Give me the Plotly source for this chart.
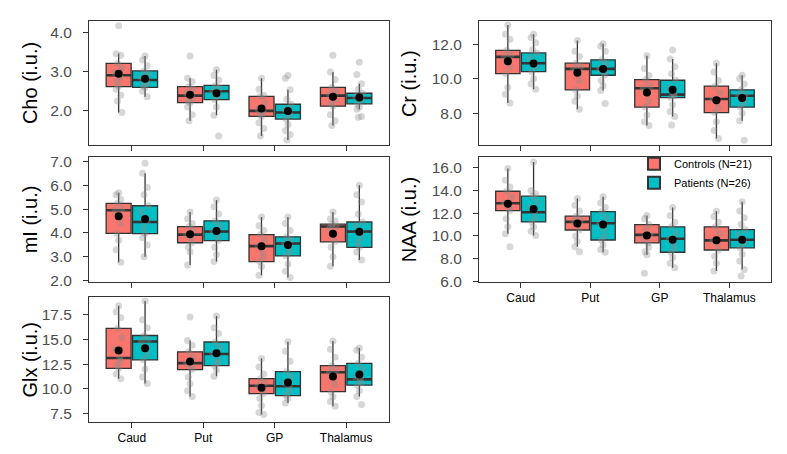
import plotly.graph_objects as go

# ---------------- data ----------------
regions = ["Caud", "Put", "GP", "Thalamus"]
group_names = ["Controls (N=21)", "Patients (N=26)"]

# box statistics per region (Caud, Put, GP, Thalamus)
cho_ctrl = dict(q1=[2.62, 2.21, 1.86, 2.12], med=[2.91, 2.39, 2.00, 2.39], q3=[3.21, 2.62, 2.37, 2.60],
                lo=[1.96, 1.75, 1.36, 1.63], hi=[3.46, 2.83, 2.83, 2.99], mean=[2.95, 2.41, 2.06, 2.36])
cho_pat = dict(q1=[2.60, 2.29, 1.79, 2.18], med=[2.79, 2.50, 1.96, 2.33], q3=[3.02, 2.65, 2.17, 2.45],
               lo=[2.36, 1.89, 1.26, 2.04], hi=[3.40, 3.05, 2.54, 2.69], mean=[2.82, 2.45, 2.00, 2.34])
cr_ctrl = dict(q1=[10.30, 9.36, 8.36, 8.04], med=[11.28, 10.58, 9.45, 8.83], q3=[11.66, 10.91, 9.96, 9.58],
               lo=[8.60, 8.23, 7.28, 6.53], hi=[13.13, 12.23, 11.34, 10.91], mean=[11.02, 10.36, 9.21, 8.75])
cr_pat = dict(q1=[10.42, 10.21, 8.91, 8.36], med=[10.91, 10.58, 9.08, 9.02], q3=[11.51, 11.11, 9.92, 9.36],
              lo=[9.40, 9.32, 7.81, 7.57], hi=[12.60, 12.04, 11.15, 10.21], mean=[10.90, 10.58, 9.36, 8.89])
mi_ctrl = dict(q1=[3.98, 3.59, 2.80, 3.63], med=[4.95, 3.93, 3.45, 4.27], q3=[5.24, 4.27, 3.93, 4.37],
               lo=[2.77, 2.66, 2.23, 2.61], hi=[5.69, 4.88, 4.67, 4.88], mean=[4.70, 3.95, 3.44, 3.97])
mi_pat = dict(q1=[3.97, 3.68, 3.04, 3.40], med=[4.46, 4.06, 3.56, 4.06], q3=[5.14, 4.51, 3.84, 4.46],
              lo=[3.00, 2.80, 2.13, 2.87], hi=[6.50, 5.38, 4.67, 6.00], mean=[4.59, 4.08, 3.50, 4.05])
naa_ctrl = dict(q1=[12.22, 10.52, 9.38, 8.76], med=[12.88, 11.23, 10.09, 9.61], q3=[13.93, 11.74, 11.00, 10.80],
                lo=[10.18, 9.04, 8.33, 6.91], hi=[15.94, 13.30, 11.80, 12.16], mean=[12.82, 11.09, 10.03, 9.61])
naa_pat = dict(q1=[11.23, 9.64, 8.56, 8.95], med=[12.08, 11.11, 9.75, 9.66], q3=[13.50, 12.14, 10.80, 10.55],
               lo=[10.03, 8.56, 7.19, 7.05], hi=[16.50, 13.44, 12.50, 13.00], mean=[12.36, 11.00, 9.66, 9.66])
glx_ctrl = dict(q1=[12.07, 11.94, 9.50, 9.70], med=[13.12, 12.60, 10.30, 11.68], q3=[16.12, 13.75, 11.02, 12.34],
                lo=[11.02, 9.21, 7.40, 8.22], hi=[18.42, 14.90, 13.06, 14.84], mean=[13.88, 12.76, 10.10, 11.25])
glx_pat = dict(q1=[12.93, 12.34, 9.31, 10.36], med=[14.80, 13.52, 10.26, 10.95], q3=[15.40, 14.74, 11.74, 12.57],
               lo=[10.53, 11.28, 8.55, 9.21], hi=[18.91, 17.37, 14.77, 14.14], mean=[14.11, 13.59, 10.63, 11.45])

cho_ctrl_pts = [[4.17, 3.46, 3.42, 3.21, 3.10, 2.98, 2.91, 2.85, 2.75, 2.62, 2.55, 2.40, 2.25, 1.96],
                [3.40, 2.83, 2.75, 2.62, 2.55, 2.45, 2.39, 2.33, 2.25, 2.21, 2.10, 1.90, 1.75],
                [2.83, 2.55, 2.40, 2.37, 2.20, 2.05, 2.00, 1.95, 1.90, 1.86, 1.70, 1.55, 1.36],
                [3.42, 2.99, 2.80, 2.60, 2.50, 2.42, 2.39, 2.30, 2.20, 2.12, 1.90, 1.75, 1.63]]
cho_pat_pts = [[3.40, 3.30, 3.15, 3.02, 2.95, 2.85, 2.79, 2.72, 2.65, 2.60, 2.50, 2.36],
               [3.05, 2.90, 2.78, 2.65, 2.58, 2.50, 2.45, 2.38, 2.29, 2.10, 1.89, 1.36],
               [2.90, 2.83, 2.54, 2.30, 2.17, 2.05, 1.96, 1.90, 1.79, 1.65, 1.50, 1.40, 1.26],
               [3.24, 2.93, 2.69, 2.55, 2.45, 2.38, 2.33, 2.28, 2.18, 2.10, 2.04, 1.86, 1.84]]
cr_ctrl_pts = [[13.13, 12.60, 12.30, 11.66, 11.40, 11.28, 11.00, 10.70, 10.30, 9.50, 9.10, 8.60],
               [12.23, 11.60, 11.30, 10.91, 10.70, 10.58, 10.30, 9.90, 9.36, 9.00, 8.70, 8.23],
               [11.34, 10.60, 10.20, 9.96, 9.60, 9.45, 9.10, 8.70, 8.36, 7.90, 7.50, 7.28],
               [10.91, 10.40, 9.90, 9.58, 9.20, 8.83, 8.60, 8.30, 8.04, 7.50, 7.00, 6.53]]
cr_pat_pts = [[12.60, 12.40, 12.10, 11.70, 11.51, 11.20, 10.91, 10.70, 10.42, 10.00, 9.70, 9.40],
              [12.04, 11.90, 11.60, 11.11, 10.90, 10.58, 10.40, 10.21, 9.90, 9.60, 9.32, 8.57],
              [11.68, 11.15, 10.70, 10.30, 9.92, 9.50, 9.08, 9.00, 8.91, 8.50, 8.10, 7.81, 7.32],
              [10.21, 10.00, 9.70, 9.36, 9.10, 9.02, 8.80, 8.60, 8.36, 8.00, 7.57, 6.43]]
mi_ctrl_pts = [[5.69, 5.60, 5.40, 5.24, 5.00, 4.95, 4.70, 4.40, 3.98, 3.70, 3.30, 2.77],
               [4.88, 4.60, 4.40, 4.27, 4.10, 3.93, 3.80, 3.59, 3.40, 3.20, 2.66],
               [4.67, 4.30, 4.10, 3.93, 3.70, 3.45, 3.20, 3.00, 2.80, 2.60, 2.23],
               [4.88, 4.60, 4.50, 4.37, 4.27, 4.20, 3.90, 3.63, 3.40, 3.00, 2.61]]
mi_pat_pts = [[6.92, 6.50, 5.90, 5.60, 5.14, 4.90, 4.60, 4.46, 4.20, 3.97, 3.80, 3.50, 3.00],
              [5.38, 5.10, 4.80, 4.51, 4.30, 4.06, 3.90, 3.68, 3.40, 3.10, 2.80],
              [4.67, 4.40, 4.10, 3.84, 3.70, 3.56, 3.40, 3.20, 3.04, 2.70, 2.40, 2.13],
              [6.00, 5.60, 5.30, 4.80, 4.46, 4.30, 4.06, 3.80, 3.60, 3.40, 3.20, 2.87]]
naa_ctrl_pts = [[15.94, 14.90, 14.30, 13.93, 13.40, 12.88, 12.50, 12.22, 11.50, 10.80, 10.18, 9.04],
                [13.30, 12.70, 12.20, 11.74, 11.40, 11.23, 11.00, 10.52, 10.00, 9.50, 9.04, 8.61],
                [11.80, 11.50, 11.00, 10.60, 10.09, 9.80, 9.38, 9.00, 8.60, 8.33, 6.71],
                [12.16, 11.70, 11.20, 10.80, 10.20, 9.61, 9.30, 8.76, 8.20, 7.60, 6.91]]
naa_pat_pts = [[16.50, 14.00, 13.70, 13.50, 13.00, 12.50, 12.08, 11.60, 11.23, 10.80, 10.40, 10.03],
               [13.44, 12.90, 12.50, 12.14, 11.60, 11.11, 10.60, 10.00, 9.64, 9.20, 8.80, 8.56],
               [12.50, 11.80, 11.20, 10.80, 10.20, 9.75, 9.30, 8.90, 8.56, 8.10, 7.60, 7.19],
               [13.00, 12.20, 11.60, 11.00, 10.55, 10.10, 9.66, 9.30, 8.95, 8.40, 7.80, 7.05, 6.48]]
glx_ctrl_pts = [[18.42, 17.80, 17.20, 16.12, 15.20, 14.00, 13.12, 12.80, 12.40, 12.07, 11.50, 11.02],
                [17.27, 14.90, 14.40, 13.75, 13.20, 12.60, 12.30, 11.94, 11.20, 10.50, 9.80, 9.21],
                [13.06, 12.20, 11.50, 11.02, 10.60, 10.30, 10.00, 9.50, 9.00, 8.30, 7.60, 7.40],
                [14.84, 14.00, 13.20, 12.34, 11.90, 11.68, 11.00, 10.40, 9.70, 9.20, 8.70, 8.22]]
glx_pat_pts = [[18.91, 17.00, 16.20, 15.40, 15.00, 14.80, 14.20, 13.50, 12.93, 12.00, 11.20, 10.53],
               [17.37, 16.20, 15.60, 14.74, 14.20, 13.52, 13.00, 12.60, 12.34, 11.90, 11.28],
               [14.77, 13.80, 12.80, 11.74, 11.20, 10.60, 10.26, 9.80, 9.31, 9.00, 8.55],
               [14.14, 13.90, 13.20, 12.57, 12.00, 11.20, 10.95, 10.60, 10.36, 9.80, 9.21, 8.39]]

y_titles = ["Cho (i.u.)", "Cr (i.u.)", "mI (i.u.)", "NAA (i.u.)", "Glx (i.u.)"]
y_ranges = [[1.12, 4.30], [6.13, 13.38], [1.96, 7.18], [5.97, 16.94], [6.64, 19.28]]
y_ticks = [[2.0, 3.0, 4.0], [8.0, 10.0, 12.0], [2.0, 3.0, 4.0, 5.0, 6.0, 7.0],
           [6.0, 8.0, 10.0, 12.0, 14.0, 16.0], [7.5, 10.0, 12.5, 15.0, 17.5]]

panels = [
    (cho_ctrl, cho_pat, cho_ctrl_pts, cho_pat_pts),
    (cr_ctrl, cr_pat, cr_ctrl_pts, cr_pat_pts),
    (mi_ctrl, mi_pat, mi_ctrl_pts, mi_pat_pts),
    (naa_ctrl, naa_pat, naa_ctrl_pts, naa_pat_pts),
    (glx_ctrl, glx_pat, glx_ctrl_pts, glx_pat_pts),
]

# ---------------- style ----------------
W, H = 787, 454
FONT = "Liberation Sans, Arial, Helvetica, sans-serif"
fills = ["#F8766D", "#00BFC4"]
edge = "#333333"
dodge = 0.185
bw = 0.35
jit = [0.0, -0.035, 0.03, -0.015, 0.045, -0.05, 0.015, 0.025, -0.025]

# panel pixel boxes (left, top, right, bottom)
pix = [(81, 9, 381, 137), (471, 9, 763, 137), (81, 149, 381, 277),
       (471, 149, 763, 277), (81, 293, 381, 421)]
title_x = [22, 401, 22, 401, 22]
show_xlabels = [False, False, False, True, True]

fig = go.Figure()
for p, (sc, sp, pc, pp) in enumerate(panels):
    sfx = "" if p == 0 else str(p + 1)
    xa, ya = "x" + sfx, "y" + sfx
    for g, (st, pts) in enumerate([(sc, pc), (sp, pp)]):
        off = -dodge if g == 0 else dodge
        xs = [i + 1 + off for i in range(len(regions))]
        fig.add_trace(go.Box(
            x=xs, q1=st["q1"], median=st["med"], q3=st["q3"],
            lowerfence=st["lo"], upperfence=st["hi"],
            width=bw, whiskerwidth=0, boxpoints=False,
            fillcolor=fills[g], line=dict(color=edge, width=1.3),
            name=group_names[g], legendgroup=group_names[g],
            showlegend=(p == 3), xaxis=xa, yaxis=ya, hoverinfo="skip"))
        # thicker median bars
        mx, my = [], []
        for i, m in enumerate(st["med"]):
            mx += [xs[i] - bw / 2, xs[i] + bw / 2, None]
            my += [m, m, None]
        fig.add_trace(go.Scatter(x=mx, y=my, mode="lines", line=dict(color=edge, width=2.6),
                                 showlegend=False, xaxis=xa, yaxis=ya, hoverinfo="skip"))
        # jittered observations
        px, py = [], []
        for i, vals in enumerate(pts):
            for k, v in enumerate(vals):
                px.append(xs[i] + jit[k % len(jit)])
                py.append(v)
        fig.add_trace(go.Scatter(x=px, y=py, mode="markers",
                                 marker=dict(color="rgba(140,140,140,0.35)", size=7, line=dict(width=0)),
                                 showlegend=False, xaxis=xa, yaxis=ya, hoverinfo="skip"))
        # means
        fig.add_trace(go.Scatter(x=xs, y=st["mean"], mode="markers",
                                 marker=dict(color="black", size=8),
                                 showlegend=False, xaxis=xa, yaxis=ya, hoverinfo="skip"))

annotations = []
layout = dict(width=W, height=H, margin=dict(l=0, r=0, t=0, b=0),
              paper_bgcolor="white", plot_bgcolor="white",
              font=dict(family=FONT, color="#4d4d4d"), hovermode=False,
              legend=dict(x=749 / W, y=1 - 141 / H, xanchor="right", yanchor="top",
                          bgcolor="rgba(0,0,0,0)", font=dict(size=11, color="black"),
                          tracegroupgap=0, itemsizing="constant"))
for p in range(5):
    sfx = "" if p == 0 else str(p + 1)
    l, t, r, b = pix[p]
    layout["xaxis" + sfx] = dict(
        domain=[l / W, r / W], anchor="y" + sfx, range=[0.4, 4.6],
        tickvals=[1, 2, 3, 4], ticktext=regions, showticklabels=show_xlabels[p],
        tickfont=dict(size=12, color="black"), ticks="outside", ticklen=5,
        tickcolor=edge, showline=True, linecolor=edge, linewidth=1, mirror=True,
        showgrid=False, zeroline=False, fixedrange=True)
    layout["yaxis" + sfx] = dict(
        domain=[1 - b / H, 1 - t / H], anchor="x" + sfx, range=y_ranges[p],
        tickvals=y_ticks[p], tickformat=".1f", tickfont=dict(size=15.5, color="#4d4d4d"),
        ticks="outside", ticklen=5, tickcolor=edge, showline=True, linecolor=edge,
        linewidth=1, mirror=True, showgrid=False, zeroline=False, fixedrange=True,
        ticklabelstandoff=8)
    annotations.append(dict(text=y_titles[p], textangle=-90, x=title_x[p] / W,
                            y=1 - (t + b) / 2 / H, xref="paper", yref="paper",
                            xanchor="center", yanchor="middle", showarrow=False,
                            font=dict(size=20, color="black")))
layout["annotations"] = annotations
fig.update_layout(**layout)
fig.write_html("out.html", config={"displayModeBar": False})
